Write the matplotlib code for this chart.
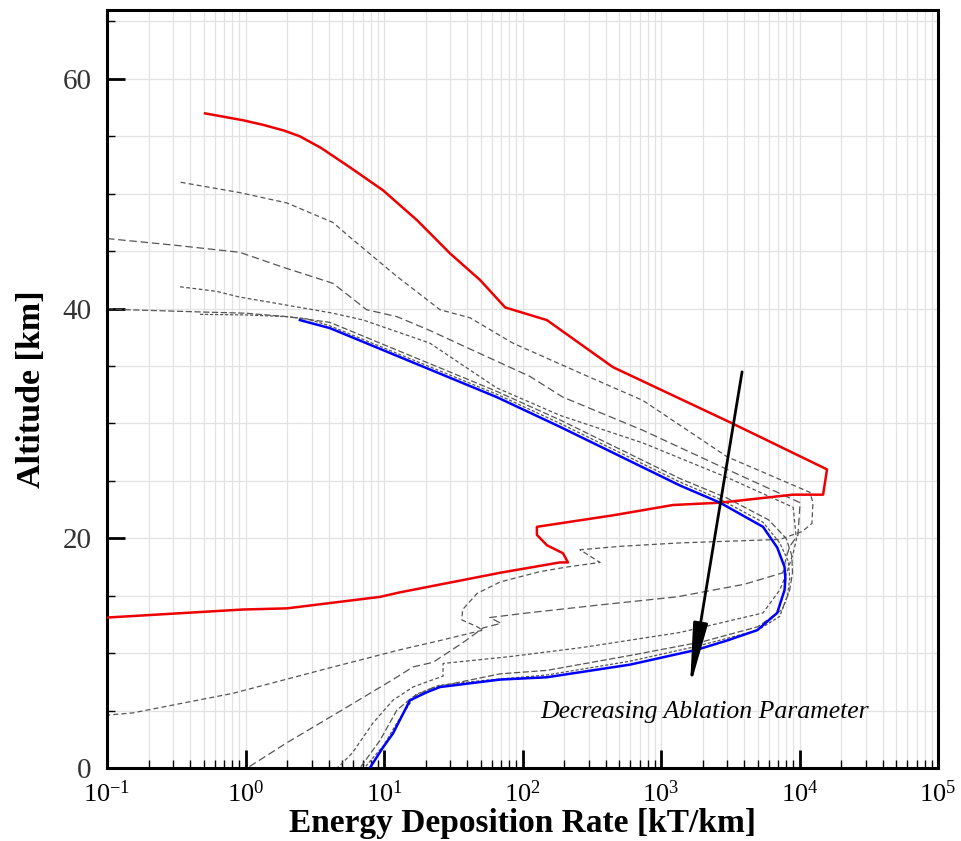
import numpy as np
import matplotlib
matplotlib.use('Agg')
import matplotlib.pyplot as plt
from matplotlib.ticker import FixedLocator, LogLocator, MultipleLocator, NullFormatter

# ---------------------------------------------------------------------------
# fonts
# ---------------------------------------------------------------------------
matplotlib.rcParams['font.family'] = 'serif'
matplotlib.rcParams['font.serif'] = ['Liberation Serif', 'DejaVu Serif']
matplotlib.rcParams['mathtext.fontset'] = 'custom'
matplotlib.rcParams['mathtext.rm'] = 'Liberation Serif'
matplotlib.rcParams['mathtext.it'] = 'Liberation Serif:italic'

# ---------------------------------------------------------------------------
# data
# ---------------------------------------------------------------------------
red_x = [0.51, 0.96, 1.34, 1.9, 2.47, 3.5, 5.68, 9.84, 17.3, 30.0, 49.3, 75, 150, 450,
         3150, 15800, 14800, 8980, 2670, 1220, 450, 127, 127, 150, 196, 213, 186, 69,
         13.1, 9.35, 1.99, 0.96, 0.1]
red_y = [57.0, 56.4, 56.0, 55.5, 55.0, 54.0, 52.3, 50.3, 47.7, 44.8, 42.5, 40.1, 39.0,
         34.9, 30.1, 26.0, 23.8, 23.8, 23.1, 22.9, 22.0, 21.0, 20.3, 19.4, 18.7, 17.9,
         17.9, 17.0, 15.3, 14.9, 13.9, 13.8, 13.1]

blue_x = [2.47, 4.07, 65, 187, 1370, 2670, 5450, 6900, 7800, 7900, 7800, 6900, 4950,
          3000, 1820, 597, 150, 69, 25.4, 20.4, 15.4, 11.6, 9.84, 7.9]
blue_y = [39.0, 38.3, 32.3, 29.7, 24.6, 23.1, 21.0, 19.2, 17.5, 16.5, 15.5, 13.5, 12.0,
          11.1, 10.3, 9.0, 7.9, 7.7, 7.05, 6.6, 5.9, 3.0, 1.8, 0.0]

grayA_x = [0.34, 0.91, 1.99, 4.28, 5.7, 12.4, 25.4, 41.8, 85, 260, 741, 3000, 11900,
           12500, 12300, 10500, 7200, 1370, 506, 260, 363, 209, 134, 69, 47, 37, 36.4,
           47, 51.6, 25.4, 13.1, 4.3, 0.81, 0.154, 0.1]
grayA_y = [51.0, 50.1, 49.2, 47.5, 46.2, 42.8, 39.9, 39.2, 37.0, 34.4, 32.0, 27.1, 24.0,
           23.1, 21.3, 20.6, 19.9, 19.6, 19.3, 19.0, 17.9, 17.5, 17.1, 16.2, 15.2, 13.8,
           12.9, 12.3, 12.0, 11.1, 10.3, 8.8, 6.5, 4.8, 4.6]

grayB_x = [0.1, 0.32, 0.91, 1.87, 4.28, 7.5, 12.4, 21.4, 49, 113, 195, 741, 3000, 10100,
           9750, 8500, 8000, 7600, 4000, 1300, 363, 108, 58, 70, 52, 38, 22.6, 16.2,
           11.6, 5.4, 1.99, 1.03]
grayB_y = [46.1, 45.5, 44.9, 43.6, 42.2, 39.9, 39.3, 38.1, 36.1, 34.1, 32.3, 29.4, 26.0,
           23.1, 20.3, 19.3, 18.3, 17.0, 16.0, 14.9, 14.2, 13.5, 13.1, 12.6, 12.2, 11.0,
           9.2, 8.8, 7.7, 5.3, 2.2, 0.0]

grayC_x = [0.337, 0.62, 0.91, 1.43, 2.47, 4.28, 7.1, 21.4, 65, 187, 741, 3000, 9000,
           9500, 9000, 8100, 7200, 5450, 1370, 274, 81, 26.7, 26.7, 20.4, 16.2, 11.6,
           8.3, 5.9, 4.6]
grayC_y = [41.9, 41.5, 41.0, 40.6, 40.1, 39.6, 39.0, 37.0, 33.1, 30.7, 28.3, 25.3, 22.7,
           19.9, 18.7, 17.0, 15.5, 13.5, 11.8, 10.5, 9.7, 9.1, 8.0, 7.5, 7.05, 5.9,
           3.9, 1.3, 0.0]

grayD_x = [0.1, 0.14, 0.5, 1.0, 2.0, 4.07, 65, 187, 1370, 3000, 6000, 8000, 8800, 8900,
           8500, 7500, 5000, 2000, 600, 150, 69, 22.6, 16.2, 12.4, 9.35, 6.7]
grayD_y = [40.0, 39.9, 39.7, 39.6, 39.3, 38.8, 32.8, 30.3, 25.2, 23.5, 21.6, 20.0, 18.5,
           17.0, 15.5, 13.8, 12.3, 11.0, 9.8, 8.5, 8.2, 7.0, 6.2, 5.05, 2.4, 0.0]

grayE_x = [0.47, 1.0, 2.0, 2.8, 4.07, 65, 187, 1370, 2670, 5450, 7200, 8300, 8500, 8200,
           7200, 5000, 1820, 597, 150, 50, 25, 17, 12.5, 10, 7.2]
grayE_y = [39.5, 39.45, 39.3, 39.1, 38.5, 32.55, 30.0, 24.9, 23.4, 21.4, 19.6, 18.0, 16.5,
           15.0, 13.2, 12.0, 10.6, 9.3, 8.1, 7.6, 7.2, 6.4, 4.0, 2.0, 0.0]

gray_lines = [(grayA_x, grayA_y, (4, 2.5)),
              (grayB_x, grayB_y, (6, 3)),
              (grayC_x, grayC_y, (3, 2)),
              (grayD_x, grayD_y, (5, 2)),
              (grayE_x, grayE_y, (2.5, 1.5))]

x_ticks = [1e-1, 1e0, 1e1, 1e2, 1e3, 1e4, 1e5]
y_ticks = [0, 20, 40, 60]

arrow_start = (3850, 34.5)
arrow_end = (1620, 7.06)
note_pos = (2080, 4.9)
note_text = 'Decreasing Ablation Parameter'

xlabel = 'Energy Deposition Rate [kT/km]'
ylabel = 'Altitude [km]'

# ---------------------------------------------------------------------------
# figure
# ---------------------------------------------------------------------------
fig = plt.figure(figsize=(9.61, 8.41), dpi=100)
ax = fig.add_axes([107/961, 1 - 768/841, (938-107)/961, (768-10)/841])

ax.set_xscale('log')
ax.set_xlim(0.1, 1e5)
ax.set_ylim(0, 66)

# grid
ax.grid(True, which='both', color='#e2e2e2', linewidth=0.9, zorder=0)
ax.set_axisbelow(True)

for gx, gy, dsh in gray_lines:
    ax.plot(gx, gy, color='#555555', linewidth=0.9, dashes=dsh, zorder=2)

ax.plot(red_x, red_y, color='#ee0000', linewidth=1.8, zorder=3)
ax.plot(blue_x, blue_y, color='#0000ff', linewidth=1.8, zorder=3)

ax.annotate('', xy=arrow_end, xytext=arrow_start,
            arrowprops=dict(arrowstyle='-|>,head_length=1.9,head_width=0.22',
                            mutation_scale=20, color='black', lw=2.0,
                            shrinkA=0, shrinkB=0), zorder=4)
ax.text(note_pos[0], note_pos[1], note_text, ha='center', va='center',
        fontsize=18.5, style='italic', zorder=4)

# ticks
ax.xaxis.set_major_locator(FixedLocator(x_ticks))
ax.xaxis.set_minor_locator(LogLocator(base=10, subs=np.arange(2, 10), numticks=20))
ax.xaxis.set_minor_formatter(NullFormatter())
ax.yaxis.set_major_locator(FixedLocator(y_ticks))
ax.yaxis.set_minor_locator(MultipleLocator(5))

ax.tick_params(which='major', direction='in', length=13, width=2.0, top=False, right=False)
ax.tick_params(which='minor', direction='in', length=6, width=1.0, top=False, right=False)
ax.tick_params(axis='x', which='major', labelsize=19, pad=9)
ax.tick_params(axis='y', which='major', labelsize=21, pad=11)
for lbl in ax.get_yticklabels():
    lbl.set_color('#333333')

for s in ax.spines.values():
    s.set_linewidth(2.2)

ax.set_xlabel(xlabel, fontsize=24, fontweight='bold', labelpad=1)
ax.set_ylabel(ylabel, fontsize=24.5, fontweight='bold', labelpad=11)

plt.savefig('out.png', dpi=100)
